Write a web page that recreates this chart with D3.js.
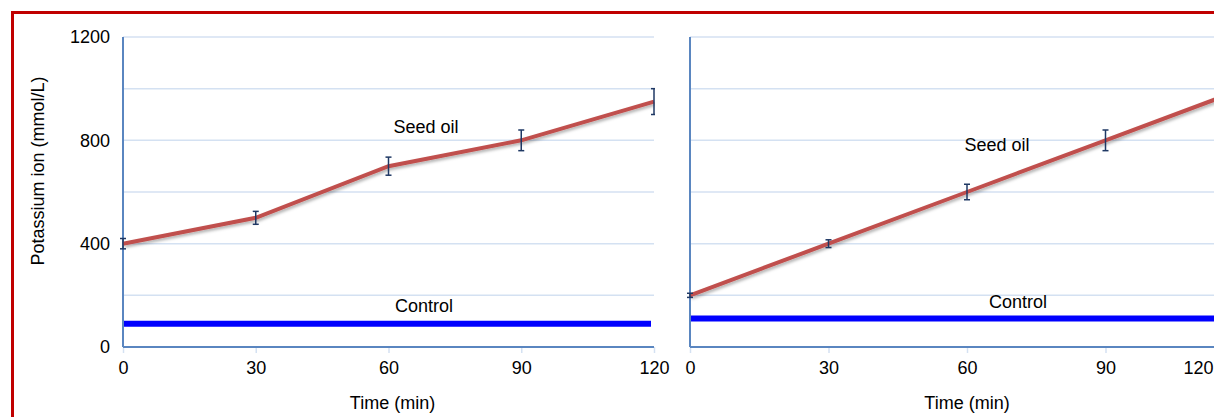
<!DOCTYPE html>
<html><head><meta charset="utf-8">
<script src="https://cdn.jsdelivr.net/npm/d3@7"></script>
<style>body{margin:0;background:#fff;overflow:hidden}svg{display:block;font-family:"Liberation Sans",Arial,sans-serif}</style>
</head><body><svg id="c" width="1214" height="417"></svg>
<script>
const times = [0, 30, 60, 90, 120];
const yTicks = [0, 400, 800, 1200];
const gridTicks = [0, 200, 400, 600, 800, 1000, 1200];
const leftSeed = [400, 500, 700, 800, 950];
const leftErr = [20, 25, 35, 40, 50];
const leftControl = 90;
const rightSeed = [200, 400, 600, 800, 1000];
const rightErr = [8, 15, 30, 40, 45];
const rightControl = 110;
const seriesLabel = ["Seed oil", "Control"];
const xTitle = "Time (min)";
const yTitle = "Potassium ion (mmol/L)";
const FS = 18;

const svg = d3.select("#c");
const defs = svg.append("defs");
const f = defs.append("filter").attr("id","sh").attr("x","-10%").attr("y","-50%").attr("width","120%").attr("height","200%");
f.append("feDropShadow").attr("dx",1.5).attr("dy",2).attr("stdDeviation",1.5).attr("flood-color","#000").attr("flood-opacity",0.3);

// red frame
svg.append("rect").attr("x",12.5).attr("y",12.5).attr("width",1300).attr("height",500)
  .attr("fill","none").attr("stroke","#c00000").attr("stroke-width",3);

const y = d3.scaleLinear().domain([0,1200]).range([347,37]);

function panel(x0, x1, seed, err, control, showY, ctrlLbl, seedLbl, id){
  const x = d3.scaleLinear().domain([0,120]).range([x0,x1]);
  const clipR = Math.min(x1, 1214);
  defs.append("clipPath").attr("id",id).append("rect")
    .attr("x",x0-8).attr("y",20).attr("width",clipR-x0+8+1).attr("height",340);
  const g = svg.append("g");
  g.selectAll(".gr").data(gridTicks.filter(d=>d>0)).join("line")
    .attr("x1",x0).attr("x2",x1).attr("y1",d=>y(d)).attr("y2",d=>y(d))
    .attr("stroke","#d4e1f2").attr("stroke-width",1.5);
  const xa = g.append("g").attr("transform","translate(0,347)")
    .call(d3.axisBottom(x).tickValues(times).tickFormat(d3.format("d")).tickSize(6).tickSizeOuter(0).tickPadding(8.5));
  xa.select(".domain").remove();
  xa.attr("font-size",FS).attr("font-family","Liberation Sans, Arial, sans-serif");
  xa.selectAll(".tick line").attr("stroke","#d4e1f2").attr("stroke-width",1.5);
  xa.selectAll(".tick text").attr("fill","#000");
  xa.selectAll(".tick").each(function(d){
    const t = d3.select(this).select("text");
    if (x(d) + 16 > 1214) { t.attr("text-anchor","end").attr("x", 1213 - x(d)); }
  });
  g.append("line").attr("x1",x0).attr("x2",x1).attr("y1",347).attr("y2",347).attr("stroke","#5a86c0").attr("stroke-width",2);
  g.append("line").attr("x1",x0).attr("x2",x0).attr("y1",37).attr("y2",347).attr("stroke","#5a86c0").attr("stroke-width",2);
  if (showY){
    const ya = g.append("g").attr("transform",`translate(${x0-13},0)`)
      .call(d3.axisLeft(y).tickValues(yTicks).tickFormat(d3.format("d")).tickSize(0).tickPadding(0));
    ya.select(".domain").remove();
    ya.attr("font-size",FS).attr("font-family","Liberation Sans, Arial, sans-serif");
    ya.selectAll(".tick text").attr("fill","#000");
  }
  g.append("text").attr("x",(x0+x1)/2 + (id==="cl"?4:0))
    .attr("y",409).attr("text-anchor","middle").attr("font-size",FS).text(xTitle);
  const cg = g.append("g").attr("clip-path",`url(#${id})`);
  cg.append("line").attr("x1",x0+1).attr("x2",x1-3).attr("y1",y(control)).attr("y2",y(control))
    .attr("stroke","#0000ff").attr("stroke-width",6);
  const pts = times.map((t,i)=>[t,seed[i]]);
  cg.append("path").datum(pts).attr("fill","none").attr("stroke","#c0504d").attr("stroke-width",4)
    .attr("filter","url(#sh)")
    .attr("d", d3.line().x(d=>x(d[0])).y(d=>y(d[1])));
  const eb = cg.selectAll(".eb").data(times.map((t,i)=>({t,v:seed[i],e:err[i]}))).join("g");
  eb.append("line").attr("x1",d=>x(d.t)).attr("x2",d=>x(d.t)).attr("y1",d=>y(d.v-d.e)).attr("y2",d=>y(d.v+d.e))
    .attr("stroke","#1f3864").attr("stroke-width",1.5);
  eb.append("line").attr("x1",d=>x(d.t)-3).attr("x2",d=>x(d.t)+3).attr("y1",d=>y(d.v-d.e)).attr("y2",d=>y(d.v-d.e))
    .attr("stroke","#1f3864").attr("stroke-width",1.5);
  eb.append("line").attr("x1",d=>x(d.t)-3).attr("x2",d=>x(d.t)+3).attr("y1",d=>y(d.v+d.e)).attr("y2",d=>y(d.v+d.e))
    .attr("stroke","#1f3864").attr("stroke-width",1.5);
  g.append("text").attr("x",seedLbl[0]).attr("y",seedLbl[1]).attr("text-anchor","middle").attr("font-size",FS).text(seriesLabel[0]);
  g.append("text").attr("x",ctrlLbl[0]).attr("y",ctrlLbl[1]).attr("text-anchor","middle").attr("font-size",FS).text(seriesLabel[1]);
  return x;
}

panel(123, 654, leftSeed, leftErr, leftControl, true, [424,312], [426,133], "cl");
panel(690, 1244, rightSeed, rightErr, rightControl, false, [1018,308], [997,151], "cr");

svg.append("text").attr("transform","translate(44,171) rotate(-90)").attr("text-anchor","middle")
  .attr("font-size",FS).text(yTitle);
</script></body></html>
